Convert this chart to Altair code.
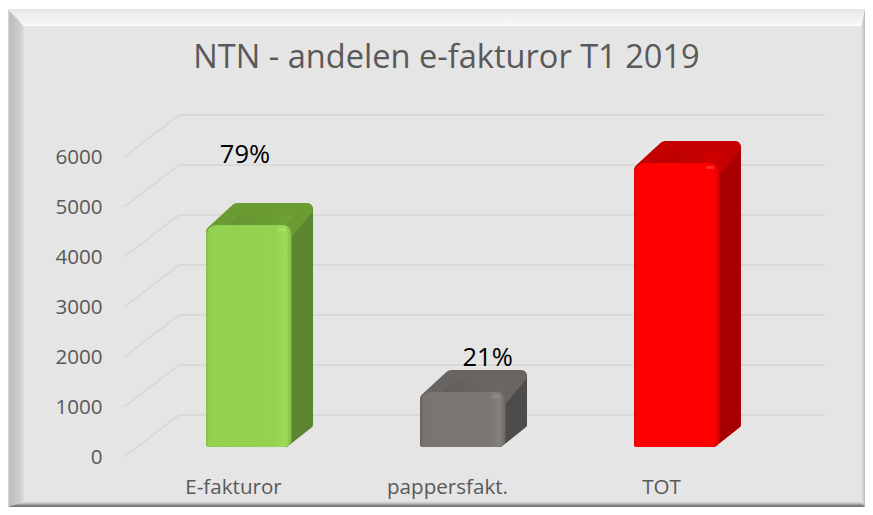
import altair as alt
import pandas as pd

# ---- values
categories = ["E-fakturor", "pappersfakt.", "TOT"]
bar_values = [4440, 1100, 5680]
pct_labels = ["79%", "21%"]
pct_label_x = [0.056, 1.19]
pct_label_y = [6040, 1980]
y_ticks = [0, 1000, 2000, 3000, 4000, 5000, 6000]
title_text = "NTN - andelen e-fakturor T1 2019"

front_stops = [
    [(0, "#84c045"), (0.04, "#92d050"), (0.8, "#94d252"), (0.93, "#9cdc58"), (0.985, "#86bd48"), (1, "#6a9838")],
    [(0, "#625f5c"), (0.04, "#787470"), (0.8, "#7a7673"), (0.93, "#84807c"), (0.985, "#6e6a67"), (1, "#565351")],
    [(0, "#e80000"), (0.04, "#ff0000"), (0.8, "#ff0000"), (0.93, "#ff0000"), (0.985, "#d80000"), (1, "#b00000")],
]
side_colors = ["#5c8530", "#4e4c4b", "#a80000"]
top_stops = [
    [(0, "#63922f"), (0.6, "#6a9c33"), (1, "#74a93a")],
    [(0, "#605c59"), (0.6, "#686461"), (1, "#6e6a67")],
    [(0, "#b80000"), (0.6, "#c40000"), (1, "#de0000")],
]
highlight = ["#b4ea6c", "#9a9692", "#ff5050"]

# ---- chart geometry (page pixels)
W, H = 857, 499
FR = 8 + W
FB = 8 + H
X_PER_CAT = 214.0
X0_PAGE = 233.0
Y0_PAGE = 457.0
V_PER_PX = 20.0


def U(px):
    return (px - X0_PAGE) / X_PER_CAT


def DU(px):
    return px / X_PER_CAT


def V(py):
    return (Y0_PAGE - py) * V_PER_PX


def DV(px):
    return px * V_PER_PX


y_axis = alt.Axis(
    values=y_ticks, domain=False, ticks=False, grid=False, labelPadding=0, offset=-94, zindex=1,
    labelFontSize=20.6, labelFont="Open Sans", labelColor="#595959", labelOverlap=False, title=None,
    format="d",
)
x_axis = alt.Axis(
    values=[0, 1, 2], domain=False, ticks=False, grid=False, labelPadding=0, offset=-20, zindex=1,
    labelFontSize=20.6, labelFont="Open Sans", labelColor="#595959", labelOverlap=False,
    labelFlush=False, labelBaseline="middle", title=None,
    labelExpr="[" + ",".join(f"'{c}'" for c in categories) + "][datum.value]",
)
xs = alt.Scale(domain=[U(8), U(8 + W)], range=[0, W], nice=False, zero=False)
ys = alt.Scale(domain=[V(8 + H), V(8)], range=[H, 0], nice=False, zero=False)
X = alt.X("x:Q", scale=xs, axis=x_axis)
Y = alt.Y("y:Q", scale=ys, axis=y_axis)
X2 = alt.X2("x2:Q")
Y2 = alt.Y2("y2:Q")


def grad(stops, vertical=False):
    return alt.Gradient(
        gradient="linear",
        stops=[alt.GradientStop(offset=o, color=c) for o, c in stops],
        x1=0, y1=0, x2=0 if vertical else 1, y2=1 if vertical else 0,
    )


layers = []
IR = FR - 4
IB = FB - 6

# ---- bevelled frame
layers.append(
    alt.Chart(pd.DataFrame({"x": [U(24)], "x2": [U(IR)], "y": [V(26)], "y2": [V(IB)]}))
    .mark_rect(fill="#e5e5e5")
    .encode(x=X, x2=X2, y=Y, y2=Y2)
)
layers.append(
    alt.Chart(pd.DataFrame({"x": [U(8), U(24)], "y": [V(9), V(26)], "y2": [V(FB), V(IB)]}))
    .mark_area(fill=grad([(0, "#dedede"), (0.12, "#bcbcbc"), (0.7, "#cccccc"), (1, "#dedede")]), orient="vertical")
    .encode(x=X, y=Y, y2=Y2)
)
layers.append(
    alt.Chart(pd.DataFrame({"y": [V(9), V(26)], "x": [U(8), U(24)], "x2": [U(FR), U(IR)]}))
    .mark_area(fill=grad([(0, "#e2e2e2"), (0.2, "#ececec"), (0.75, "#f4f4f4"), (1, "#fdfdfd")], True), orient="horizontal")
    .encode(y=Y, x=X, x2=X2)
)
layers.append(
    alt.Chart(pd.DataFrame({"x": [U(IR), U(FR)], "y": [V(26), V(9)], "y2": [V(IB), V(FB)]}))
    .mark_area(fill=grad([(0, "#e2e2e2"), (0.6, "#cfcfcf"), (1, "#b4b4b4")]), orient="vertical")
    .encode(x=X, y=Y, y2=Y2)
)
layers.append(
    alt.Chart(pd.DataFrame({"y": [V(IB), V(FB)], "x": [U(24), U(8)], "x2": [U(IR), U(FR)]}))
    .mark_area(fill=grad([(0, "#e4e4e4"), (0.35, "#c8c8c8"), (0.7, "#8a8a8a"), (1, "#6c6c6c")], True), orient="horizontal")
    .encode(y=Y, x=X, x2=X2)
)

# ---- gridlines: back wall and left side wall
WALL_DV = DV(42)
left_x, wall_x, right_x = U(124), U(179), U(825)
grid = pd.DataFrame({
    "x": [wall_x] * len(y_ticks),
    "x2": [right_x] * len(y_ticks),
    "y": [t + WALL_DV for t in y_ticks],
})
layers.append(
    alt.Chart(grid).mark_rule(color="#d9d9d9", strokeWidth=1.8)
    .encode(x=X, x2=X2, y=Y)
)
diag_rows = []
for t in y_ticks:
    diag_rows.append({"tick": t, "x": left_x, "y": t, "order": 0})
    diag_rows.append({"tick": t, "x": wall_x, "y": t + WALL_DV, "order": 1})
layers.append(
    alt.Chart(pd.DataFrame(diag_rows)).mark_line(color="#d9d9d9", strokeWidth=1.8)
    .encode(x=X, y=Y, detail="tick:N", order="order:Q")
)

# ---- 3D bars
BASE = V(447)
L_PX, R_PX = -27, 59
SIDE_PX, DEPTH_PX = 21, 19
for i, v in enumerate(bar_values):
    left, right = i + DU(L_PX), i + DU(R_PX)
    top, base = BASE + v, BASE
    # side face
    r = 3
    side = pd.DataFrame({
        "x": [right - DU(6), right + DU(SIDE_PX - r)],
        "y": [top - DV(3), top + DV(DEPTH_PX - r)],
        "y2": [base + DV(r), base + DV(DEPTH_PX + r)],
    })
    layers.append(
        alt.Chart(side).mark_area(
            fill=side_colors[i], stroke=side_colors[i], strokeWidth=2 * r, strokeJoin="round", orient="vertical"
        ).encode(x=X, y=Y, y2=Y2)
    )
    # top face
    r = 6
    topf = pd.DataFrame({
        "y": [top - DV(7), top + DV(22 - r)],
        "x": [left + DU(6), left + DU(31)],
        "x2": [right - DU(4), right + DU(SIDE_PX - r)],
    })
    layers.append(
        alt.Chart(topf).mark_area(
            fill=grad(top_stops[i]), stroke=top_stops[i][1][1], strokeWidth=2 * r, strokeJoin="round", orient="horizontal"
        ).encode(y=Y, x=X, x2=X2)
    )
    # front face
    front = pd.DataFrame({"x": [left], "x2": [right], "y": [top], "y2": [base]})
    layers.append(
        alt.Chart(front).mark_rect(
            fill=grad(front_stops[i]),
            cornerRadiusTopLeft=11, cornerRadiusTopRight=10,
            cornerRadiusBottomLeft=2, cornerRadiusBottomRight=8,
        ).encode(x=X, x2=X2, y=Y, y2=Y2)
    )
    # highlight where front meets top and side
    hl = pd.DataFrame({"x": [right - DU(14)], "x2": [right - DU(6)], "y": [top - DV(3)], "y2": [top - DV(6)]})
    layers.append(
        alt.Chart(hl).mark_rect(fill=highlight[i], opacity=0.6, cornerRadius=1.5)
        .encode(x=X, x2=X2, y=Y, y2=Y2)
    )

# ---- percentage labels
labels = pd.DataFrame({"x": pct_label_x, "y": pct_label_y, "t": pct_labels})
layers.append(
    alt.Chart(labels).mark_text(font="Open Sans", fontSize=25.5, color="#000000", align="center", baseline="middle")
    .encode(x=X, y=Y, text="t:N")
)

chart = alt.layer(*layers).properties(
    width=W, height=H, padding=0,
    autosize=alt.AutoSizeParams(type="none"),
    background="#ffffff",
    title=alt.TitleParams(
        title_text, anchor="middle", dx=10, dy=71, fontSize=32.6, font="Open Sans",
        fontWeight="normal", color="#595959",
    ),
).configure_view(stroke=None)

chart.save("out.html", embed_options={"renderer": "svg", "actions": False})
